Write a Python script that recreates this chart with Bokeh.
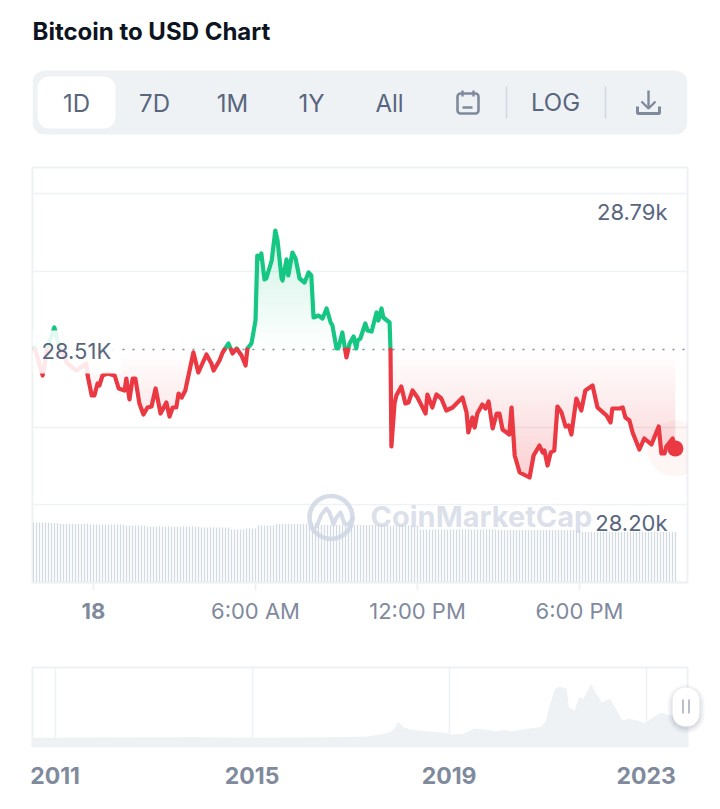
import numpy as np
from bokeh.core.properties import value
from bokeh.embed import file_html
from bokeh.layouts import column
from bokeh.models import FixedTicker, Grid, Range1d
from bokeh.plotting import figure
from bokeh.resources import INLINE

TITLE = "Bitcoin to USD Chart"
range_labels = ["1D", "7D", "1M", "1Y", "All"]

# Price over the day: minutes from midnight and USD
minutes = [-131, -113, -102, -87, -76, -58, -38, -16, -13, -4, 2, 9, 13, 20, 31, 47, 56, 69, 73, 80, 87, 93,
           102, 111, 120, 129, 138, 142, 149, 162, 169, 176, 184, 189, 196, 204, 222, 233, 251, 262, 267, 280,
           287, 300, 309, 318, 329, 338, 342, 351, 360, 364, 369, 373, 380, 384, 396, 404, 409, 418, 420, 429,
           433, 442, 449, 458, 469, 478, 484, 489, 500, 509, 518, 527, 531, 540, 544, 553, 562, 569, 578, 584,
           587, 593, 604, 609, 618, 629, 633, 640, 644, 658, 660, 662, 669, 673, 684, 693, 700, 709, 720, 738,
           742, 753, 762, 773, 784, 798, 820, 829, 833, 842, 847, 853, 864, 871, 878, 887, 896, 902, 909, 924,
           929, 936, 947, 969, 978, 991, 998, 1002, 1009, 1016, 1024, 1031, 1040, 1049, 1056, 1062, 1073, 1084,
           1093, 1109, 1120, 1140, 1149, 1153, 1169, 1176, 1182, 1191, 1198, 1213, 1224, 1240, 1256, 1262,
           1269, 1273, 1287, 1293]
prices = [28514, 28458, 28514, 28554, 28514, 28482, 28468, 28482, 28458, 28418, 28418, 28442, 28438, 28458,
          28462, 28458, 28432, 28428, 28452, 28410, 28452, 28452, 28402, 28380, 28394, 28396, 28432, 28414,
          28382, 28404, 28376, 28394, 28394, 28422, 28414, 28428, 28504, 28464, 28500, 28482, 28468, 28488,
          28504, 28522, 28502, 28512, 28498, 28478, 28512, 28522, 28568, 28698, 28692, 28702, 28650, 28652,
          28688, 28748, 28728, 28652, 28648, 28690, 28658, 28704, 28692, 28652, 28644, 28664, 28658, 28574,
          28578, 28572, 28592, 28564, 28558, 28512, 28512, 28544, 28494, 28522, 28536, 28512, 28528, 28532,
          28562, 28548, 28546, 28584, 28568, 28592, 28574, 28564, 28508, 28316, 28402, 28418, 28436, 28402,
          28404, 28428, 28414, 28382, 28420, 28394, 28420, 28412, 28388, 28394, 28414, 28384, 28344, 28374,
          28354, 28382, 28400, 28392, 28406, 28352, 28382, 28382, 28350, 28340, 28394, 28298, 28264, 28254,
          28298, 28318, 28304, 28308, 28278, 28304, 28308, 28396, 28384, 28356, 28358, 28340, 28412, 28388,
          28428, 28438, 28394, 28378, 28364, 28392, 28392, 28394, 28374, 28368, 28344, 28310, 28332, 28320,
          28356, 28302, 28302, 28316, 28332, 28312]
BASELINE = 28510
grid_prices = [28822, 28666, 28354, 28200]

volume_levels = [30.0, 29.7, 29.2, 29.5, 29.0, 28.5, 28.0, 27.5, 26.5, 27.0, 28.5, 29.3, 29.8, 28.8, 28.5, 26.5, 26.2, 25.2]
volume_counts = [6, 3, 8, 2, 12, 7, 18, 10, 5, 4, 6, 12, 3, 23, 10, 27, 27, 32]

time_ticks = [0, 360, 720, 1080]
time_labels = {0: "", 360: "6:00 AM", 720: "12:00 PM", 1080: "6:00 PM"}

# Navigator: all-time price
years = [2010.54, 2013.9, 2014.75, 2016.4, 2017.33, 2017.6, 2017.8, 2017.89, 2017.96, 2018.08, 2018.22, 2018.4,
         2018.59, 2018.92, 2019.06, 2019.29, 2019.52, 2019.76, 2019.99, 2020.13, 2020.27, 2020.5, 2020.74, 2020.86,
         2020.97, 2021.03, 2021.15, 2021.25, 2021.39, 2021.43, 2021.55, 2021.64, 2021.73, 2021.88, 2021.99, 2022.1,
         2022.27, 2022.41, 2022.51, 2022.65, 2022.88, 2022.97, 2023.11, 2023.3, 2023.49, 2023.84]
all_time = [1, 850, 100, 430, 1700, 4260, 7240, 11500, 20400, 13600, 10200, 9400, 8100, 6400, 4260, 5100, 11900,
            10200, 8500, 10200, 8500, 11100, 12800, 13600, 22100, 39000, 62600, 65600, 62600, 39000, 34900, 51900,
            49800, 69000, 56200, 45600, 49800, 34900, 22100, 24300, 21300, 18700, 25100, 31900, 28500, 39000]
year_ticks = [2011, 2015, 2019, 2023]

INK, SLATE, MUTED, RULE, PANEL = "#0d1421", "#58667e", "#808a9d", "#cfd6e4", "#eff2f5"
GREEN, RED = "#16c784", "#ea3943"
FONT = "Inter"
BORDERS = dict(min_border_left=25, min_border_right=24)


# ---------- header ----------
head = figure(width=704, height=152, x_range=Range1d(33, 688), y_range=Range1d(160, 8),
              x_axis_location=None, y_axis_location=None, toolbar_location=None, output_backend="svg",
              min_border_top=0, min_border_bottom=0, **BORDERS)
head.outline_line_color = None
head.xgrid.visible = False
head.ygrid.visible = False
head.text([33], [31], text=[TITLE], text_font=value(FONT), text_font_style="bold", text_font_size="24px",
          text_color=INK, text_baseline="middle")
head.quad(left=[33], right=[688], top=[70], bottom=[134], fill_color=PANEL, line_color=None, border_radius=12)
head.quad(left=[38], right=[116], top=[76], bottom=[128], fill_color="white", line_color=None, border_radius=12)
head.text([77, 155, 233, 312, 390], [103] * 5, text=range_labels, text_font=value(FONT), text_font_size="24px",
          text_color=SLATE, text_align="center", text_baseline="middle")
head.text([556], [102], text=["LOG"], text_font=value(FONT), text_font_size="24px", text_color=SLATE,
          text_align="center", text_baseline="middle")
head.segment([507, 606], [86, 86], [507, 606], [118, 118], line_color=RULE, line_width=1.5)
# calendar icon
head.quad(left=[458], right=[479], top=[93], bottom=[113], fill_color=None, line_color=MUTED, line_width=2.6,
          border_radius=3)
head.segment([463, 474, 463], [90, 90, 107], [463, 474, 473], [96, 96, 107], line_color=MUTED, line_width=2.4)
# download icon
head.line([649, 649], [90, 107], line_color=MUTED, line_width=2.4)
head.line([642, 649, 656], [101, 108, 101], line_color=MUTED, line_width=2.4)
head.line([638, 638, 660, 660], [106, 113, 113, 106], line_color=MUTED, line_width=3)


# ---------- main chart ----------
def mx(px):
    return (px - 94) * 20 / 9


def my(px):
    return 29208 - 2 * px


main = figure(width=704, height=490, x_range=Range1d(mx(33), mx(688)), y_range=Range1d(my(582), my(167)),
              y_axis_location=None, toolbar_location=None, output_backend="svg",
              min_border_top=7, min_border_bottom=68, **BORDERS)
main.outline_line_color = PANEL
main.outline_line_width = 2
main.xgrid.visible = False
main.ygrid.visible = False
main.add_layout(Grid(dimension=1, ticker=FixedTicker(ticks=grid_prices), grid_line_color=PANEL, grid_line_width=1.5))

axis = main.xaxis[0]
axis.ticker = FixedTicker(ticks=time_ticks)
axis.major_label_overrides = time_labels
axis.axis_line_color = PANEL
axis.axis_line_width = 2
axis.major_tick_line_color = PANEL
axis.major_tick_line_width = 2
axis.major_tick_out = 8
axis.major_tick_in = 0
axis.minor_tick_line_color = None
axis.major_label_standoff = 7
axis.major_label_text_font = FONT
axis.major_label_text_font_size = "22px"
axis.major_label_text_color = MUTED

# volume on its own scale
main.extra_y_ranges = {"volume": Range1d(0, 207.5)}
vol = np.repeat(volume_levels, volume_counts)
vol_t = mx(34) + np.arange(len(vol)) * 20 / 3
main.segment(vol_t, np.zeros(len(vol)), vol_t, vol, y_range_name="volume", line_color="#d3dae0", line_width=1.3)

# gradient fill between the baseline and the price line
t = np.array(minutes, dtype=float)
v = np.array(prices, dtype=float)
grid_x = np.linspace(t[0], t[-1], 640)
grid_y = np.linspace(v.min(), v.max(), 250)
line_at = np.interp(grid_x, t, v)
X, Y = np.meshgrid(line_at, grid_y)
img = np.zeros((len(grid_y), len(grid_x), 4), dtype=np.uint8)
up = (Y >= BASELINE) & (Y <= X)
down = (Y < BASELINE) & (Y >= X)
a_up = 0.22 * (Y - BASELINE) / (v.max() - BASELINE)
a_dn = 0.24 * (BASELINE - Y) / (BASELINE - v.min())
img[up] = np.column_stack([np.full(up.sum(), 0x16), np.full(up.sum(), 0xc7), np.full(up.sum(), 0x84), (a_up[up] * 255)])
img[down] = np.column_stack([np.full(down.sum(), 0xea), np.full(down.sum(), 0x39), np.full(down.sum(), 0x43), (a_dn[down] * 255)])
main.image_rgba(image=[img.view(dtype=np.uint32).reshape(img.shape[:2])], x=t[0], y=v.min(),
                dw=t[-1] - t[0], dh=v.max() - v.min())

# dotted reference line
main.line([mx(33), mx(688)], [BASELINE, BASELINE], line_color=MUTED, line_width=1.6, line_dash="2 8")

# price line split at the baseline
xs, ys = [t[0]], [v[0]]
for i in range(1, len(t)):
    if (v[i - 1] - BASELINE) * (v[i] - BASELINE) < 0:
        f = (BASELINE - v[i - 1]) / (v[i] - v[i - 1])
        xs.append(t[i - 1] + f * (t[i] - t[i - 1]))
        ys.append(BASELINE)
    xs.append(t[i])
    ys.append(v[i])
xs, ys = np.array(xs), np.array(ys)
main.line(xs, np.where(ys >= BASELINE, ys, np.nan), line_color=GREEN, line_width=4.2, line_join="round", line_cap="round")
main.line(xs, np.where(ys <= BASELINE, ys, np.nan), line_color=RED, line_width=4.2, line_join="round", line_cap="round")

# live point
main.scatter([t[-1]], [v[-1]], size=56, marker="circle", fill_color=RED, fill_alpha=0.05, line_color=None)
main.scatter([t[-1]], [v[-1]], size=16, marker="circle", fill_color=RED, line_color=None)

# veil behind the reference price label
main.quad(left=[mx(33)], right=[mx(122)], top=[my(330)], bottom=[my(373)], fill_color="white", fill_alpha=0.88, line_color=None)

# watermark
wm = "#cfd6e4"
main.scatter([mx(331.5)], [my(517)], size=43, marker="circle", fill_color=None, line_color=wm, line_width=4.6, line_alpha=0.85)
wave_x = [317, 322, 327, 330, 334, 337, 341, 345, 349, 353]
wave_y = [526, 514, 508, 512, 524, 517, 512, 523, 524, 518]
main.line([mx(a) for a in wave_x], [my(b) for b in wave_y], line_color=wm, line_width=4, line_alpha=0.85,
          line_join="round", line_cap="round")
main.text([mx(371)], [my(516)], text=["CoinMarketCap"], text_font=value(FONT), text_font_style="bold",
          text_font_size="29px", text_color=wm, text_alpha=0.75, text_baseline="middle")

# price labels
main.text([mx(668), mx(668)], [my(211), my(522)], text=["28.79k", "28.20k"], text_font=value(FONT),
          text_font_size="22px", text_color=SLATE, text_align="right", text_baseline="middle")
main.text([mx(42)], [my(350)], text=["28.51K"], text_font=value(FONT), text_font_size="22px", text_color=SLATE,
          text_baseline="middle")
# the bold day label sits in the axis band, outside the frame
main.text([0], [my(610)], text=["18"], text_font=value(FONT), text_font_style="bold", text_font_size="22px",
          text_color=MUTED, text_align="center", text_baseline="middle", level="overlay")


# ---------- navigator ----------
def nx(px):
    return 2011 + (px - 55.6) / 49.25


def ny(px):
    return (2212 - 3 * px) * 426


nav = figure(width=704, height=151, x_range=Range1d(nx(33), nx(688)), y_range=Range1d(ny(746), ny(667)),
             y_axis_location=None, toolbar_location=None, output_backend="svg",
             min_border_top=17, min_border_bottom=55, **BORDERS)
nav.outline_line_color = PANEL
nav.outline_line_width = 2
nav.xgrid.visible = False
nav.ygrid.visible = False
ax = nav.xaxis[0]
ax.ticker = FixedTicker(ticks=year_ticks)
ax.major_label_overrides = {y: str(y) for y in year_ticks}
ax.axis_line_color = None
ax.major_tick_line_color = None
ax.minor_tick_line_color = None
ax.major_label_standoff = 14
ax.major_label_text_font = FONT
ax.major_label_text_font_style = "bold"
ax.major_label_text_font_size = "23px"
ax.major_label_text_color = MUTED
nav.add_layout(Grid(dimension=0, ticker=FixedTicker(ticks=year_ticks), grid_line_color=PANEL, grid_line_width=1.5))
nav.varea(x=years, y1=[ny(746)] * len(years), y2=all_time, fill_color=PANEL)

# slider handle hangs past the frame
for off, alpha in ((5, 0.05), (3, 0.07), (1, 0.09)):
    nav.quad(left=[nx(673 - off)], right=[nx(700 + off)], top=[ny(687 - off + 2)], bottom=[ny(726 + off + 2)],
             fill_color=SLATE, fill_alpha=alpha, line_color=None, border_radius=14 + off, level="overlay")
nav.quad(left=[nx(673)], right=[nx(700)], top=[ny(687)], bottom=[ny(726)], fill_color="white", line_color=None,
         border_radius=13, level="overlay")
nav.segment([nx(683.5), nx(689.5)], [ny(699)] * 2, [nx(683.5), nx(689.5)], [ny(713)] * 2, line_color="#a6b0c3",
            line_width=1.6, level="overlay")

layout = column(head, main, nav, spacing=0, margin=(8, 8, 8, 7))
open("out.html", "w").write(file_html(layout, INLINE))
